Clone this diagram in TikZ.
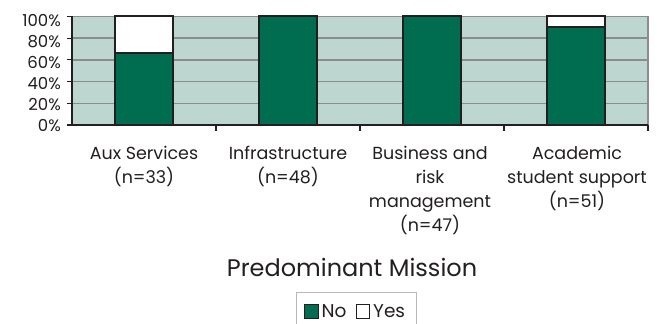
\documentclass[tikz,border=0pt]{standalone}
\usepackage{fontspec}
\setmainfont{Poppins}
\usepackage{xcolor}
\usetikzlibrary{positioning}

\definecolor{plotbg}{RGB}{189,215,208}
\definecolor{gridgray}{RGB}{140,140,140}
\definecolor{nogreen}{RGB}{0,108,80}
\definecolor{barline}{RGB}{35,31,32}
\definecolor{textgray}{RGB}{35,31,32}
\definecolor{boxgray}{RGB}{185,185,185}

\begin{document}
\begin{tikzpicture}[x=1pt,y=-1pt,
  gridline/.style={gridgray,line width=1.6pt},
  axisline/.style={barline,line width=1.2pt},
  barbox/.style={draw=barline,line width=2pt},
  ticklabel/.style={anchor=east,inner sep=0pt,text=textgray,font=\fontsize{16.5}{18}\selectfont},
  catlabel/.style={anchor=north,align=center,inner sep=0pt,text=textgray,font=\fontsize{17.5}{24}\selectfont},
  legendkey/.style={draw=barline,line width=.8pt,minimum size=13.5pt,inner sep=0pt},
  legendtext/.style={inner sep=0pt,text=textgray,font=\fontsize{18.5}{20}\selectfont}]

\useasboundingbox (0,0) rectangle (657,324);

%\draw[help lines] (0,0) grid (657,324);

% plot area and grid
\fill[plotbg] (72,16.4) rectangle (648,125);
\draw[gridline] (72,16.4) -- (648,16.4) -- (648,125);
\draw[gridline] (72,38.1) -- (648,38.1);
\draw[gridline] (72,59.8) -- (648,59.8);
\draw[gridline] (72,81.6) -- (648,81.6);
\draw[gridline] (72,103.3) -- (648,103.3);

% bars
\draw[barbox, fill=nogreen] (115,125) rectangle (173,52.6);
\draw[barbox, fill=white] (115,52.6) rectangle (173,16.4);

\draw[barbox, fill=nogreen] (259,125) rectangle (317,16.4);

\draw[barbox, fill=nogreen] (403,125) rectangle (461,16.4);

\draw[barbox, fill=nogreen] (547,125) rectangle (605,27.2);
\draw[barbox, fill=white] (547,27.2) rectangle (605,16.4);

% axes
\draw[axisline] (72,16.4) -- (72,125) -- (648,125);
\draw[axisline] (66.5,16.4) -- (72,16.4);
\draw[axisline] (66.5,38.1) -- (72,38.1);
\draw[axisline] (66.5,59.8) -- (72,59.8);
\draw[axisline] (66.5,81.6) -- (72,81.6);
\draw[axisline] (66.5,103.3) -- (72,103.3);
\draw[axisline] (66.5,125) -- (72,125);
\draw[axisline] (216,125) -- (216,130.5);
\draw[axisline] (360,125) -- (360,130.5);
\draw[axisline] (504,125) -- (504,130.5);
\draw[axisline] (648,125) -- (648,130.5);

\node[ticklabel] (p100) at (61,20.8) {100\%};
\node[ticklabel] (p80) at (61,42) {80\%};
\node[ticklabel] (p60) at (61,63) {60\%};
\node[ticklabel] (p40) at (61,84) {40\%};
\node[ticklabel] (p20) at (61,105) {20\%};
\node[ticklabel] (p0) at (61,126) {0\%};

% categories
\node[catlabel] (aux) at (144,142.5) {\strut Aux Services\\(n=33)};
\node[catlabel] (infra) at (288,142.5) {\strut Infrastructure\\(n=48)};
\node[catlabel] (business) at (430,142.5) {\strut Business and\\risk\\management\\(n=47)};
\node[catlabel] (academic) at (577,142.5) {\strut Academic\\student support\\(n=51)};

\node[anchor=base,inner sep=0pt,text=textgray,font=\fontsize{24}{28}\selectfont] (mission) at (352,276) {Predominant Mission};

% legend
\draw[boxgray, line width=.8pt] (296,330) -- (296,292) -- (416,292) -- (416,330);
\node[legendkey, fill=nogreen] (keyno) at (311.3,311.3) {};
\node[legendtext, right=3pt of keyno] (no) {No};
\node[legendkey, fill=white, right=9pt of no] (keyyes) {};
\node[legendtext, right=3pt of keyyes] (yes) {Yes};

\end{tikzpicture}
\end{document}
